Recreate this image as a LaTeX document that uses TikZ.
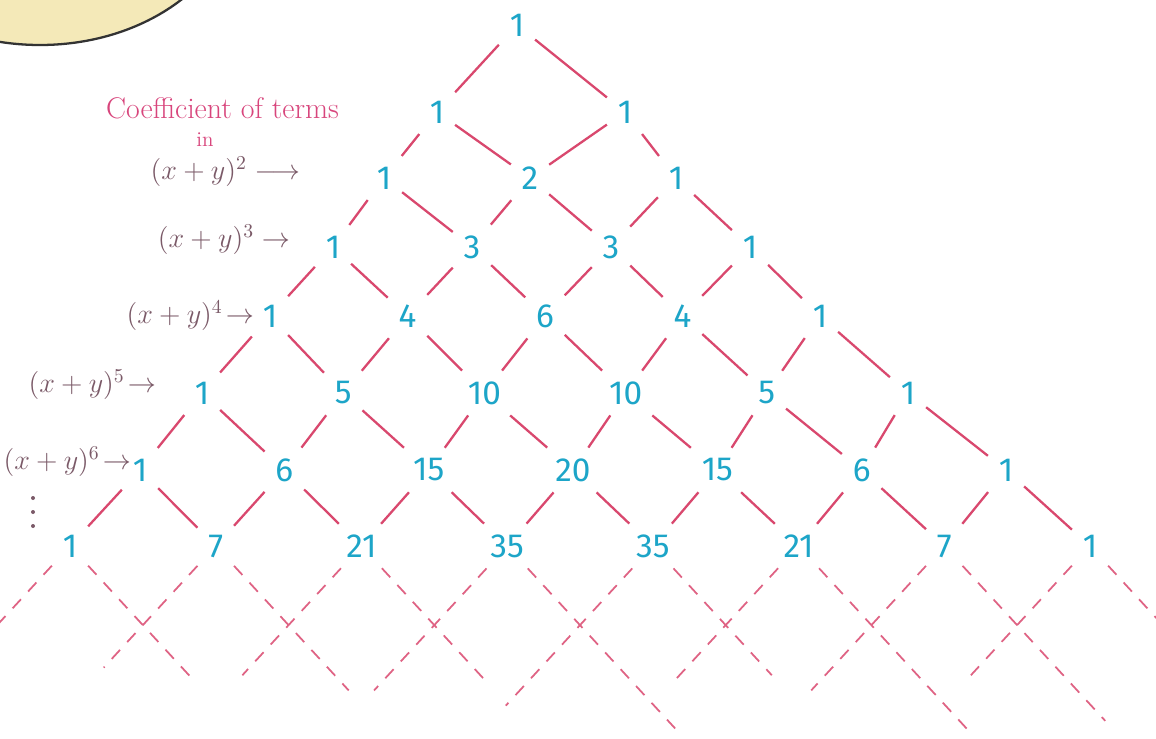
\RequirePackage{fix-cm}
\documentclass[tikz,border=0pt]{standalone}
\usepackage{fontspec}
\setsansfont{Fira Sans}
\definecolor{numblue}{HTML}{1DA5C8}
\definecolor{linered}{HTML}{D9486E}
\definecolor{notepink}{HTML}{D8457C}
\definecolor{notebrown}{HTML}{7B5A68}
\definecolor{bubble}{HTML}{F4E9B8}

\tikzset{
  num/.style={text=numblue, font=\sffamily\fontsize{19}{21}\selectfont, inner sep=6pt},
  edge/.style={linered, line width=1.3pt},
  edgedash/.style={linered!85, line width=1pt, dash pattern=on 7pt off 6pt},
  power/.style={text=notebrown, font=\fontsize{16}{18}\selectfont, anchor=east, inner sep=1pt},
}

\begin{document}
\begin{tikzpicture}[x=0.02cm,y=-0.02cm]
    \path[use as bounding box, clip] (0,0) rectangle (1156,738);
    \fill[white] (0,0) rectangle (1156,738);

    % title bubble, mostly cut off
    \draw[black!80, line width=1.3pt, fill=bubble] (40,-110) ellipse [x radius=200, y radius=155];

    % the numbers
    \foreach \r/\L/\R/\y in {0/517/517/25, 1/437/625/112, 2/384/676/178,
        3/333/750/247, 4/270/820/316, 5/202/908/393, 6/140/1006/470, 7/70/1090/546} {
      \foreach \k in {0,...,\r} {
        \pgfmathsetmacro\xx{\L+\k*(\R-\L)/max(\r,1)}
        \pgfmathtruncatemacro\v{round(factorial(\r)/(factorial(\k)*factorial(\r-\k)))}
        \node[num] (n-\r-\k) at (\xx,\y) {\v};
      }
    }

    % lattice
    \foreach \r in {0,...,6} {
      \pgfmathtruncatemacro\s{\r+1}
      \foreach \k in {0,...,\r} {
        \pgfmathtruncatemacro\kk{\k+1}
        \draw[edge] (n-\r-\k) -- (n-\s-\k);
        \draw[edge] (n-\r-\k) -- (n-\s-\kk);
      }
    }

    % dashed continuation below the last row
    \foreach \k/\dl/\dr in {0/1.2/1.8, 1/1.6/1.9, 2/1.7/1.8, 3/1.9/2.4,
        4/2.1/1.7, 5/1.8/2.5, 6/1.9/2.3, 7/1.7/1.9} {
      \pgfmathsetmacro\xk{70+145.7*\k}
      \coordinate (dl-\k) at ({\xk-70*\dl},{546+76*\dl});
      \coordinate (dr-\k) at ({\xk+70*\dr},{546+76*\dr});
      \draw[edgedash] (n-7-\k) -- (dl-\k);
      \draw[edgedash] (n-7-\k) -- (dr-\k);
    }

    % notes on the left
    \node[text=notepink, font=\fontsize{17}{19}\selectfont, anchor=west] (coef) at (100,108) {Coefficient of terms};
    \node[text=notepink, font=\fontsize{12}{14}\selectfont] (in) at (205,140) {in};
    \node[power] (p2) at (302,172) {$(x+y)^2\longrightarrow$};
    \node[power] (p3) at (292,240) {$(x+y)^3\rightarrow$};
    \node[power] (p4) at (256,316) {$(x+y)^4\!\rightarrow$};
    \node[power] (p5) at (158,385) {$(x+y)^5\!\rightarrow$};
    \node[power] (p6) at (133,462) {$(x+y)^6\!\rightarrow$};
    \foreach \d in {498,512,526}
      \fill[notebrown] (33,\d) circle [radius=2];
\end{tikzpicture}
\end{document}
